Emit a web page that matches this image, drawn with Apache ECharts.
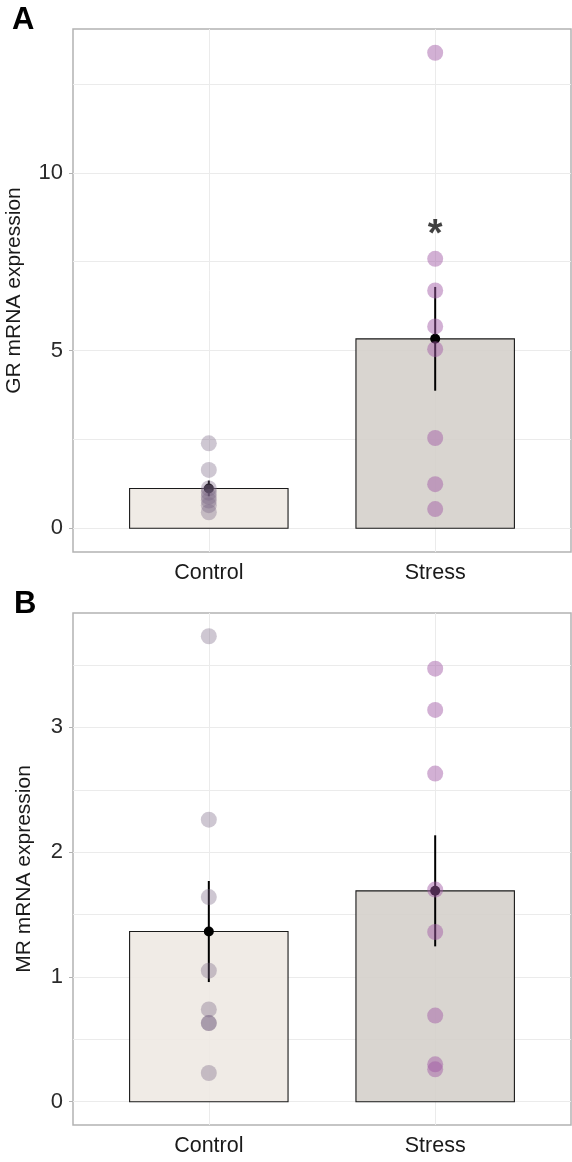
<!DOCTYPE html>
<html><head><meta charset="utf-8">
<script src="https://cdn.jsdelivr.net/npm/echarts@6/dist/echarts.min.js"></script>
<style>html,body{margin:0;padding:0;background:#fff}#c{width:572px;height:1162px}</style>
</head><body><div id="c"></div>
<script>
// ---- data ----
const categories = ['Control', 'Stress'];
const grPointsControl = [2.39, 1.64, 1.12, 1.00, 0.88, 0.78, 0.65, 0.45];
const grPointsStress = [13.38, 7.58, 6.69, 5.68, 5.04, 2.54, 1.24, 0.54];
const grMean = [1.12, 5.33];
const grSem = [0.22, 1.46];
const mrPointsControl = [3.73, 2.26, 1.64, 1.05, 0.74, 0.63, 0.63, 0.23];
const mrPointsStress = [3.47, 3.14, 2.63, 1.70, 1.36, 0.69, 0.30, 0.26];
const mrMean = [1.364, 1.69];
const mrSem = [0.405, 0.445];
const grTicks = [0, 5, 10];
const grGridLines = [0, 2.5, 5, 7.5, 10, 12.5];
const mrTicks = [0, 1, 2, 3];
const mrGridLines = [0, 0.5, 1, 1.5, 2, 2.5, 3, 3.5];
const grSignif = [[2, 8.25, '*']];
const panelLetters = ['A', 'B'];
const yTitles = ['GR mRNA expression', 'MR mRNA expression'];

// ---- styling ----
const FONT = "'Liberation Sans', Arial, sans-serif";
const barColors = ['rgba(238,232,226,0.88)', 'rgba(212,207,202,0.88)'];
const pointColors = ['rgba(120,100,130,0.36)', 'rgba(160,90,165,0.48)'];
const borderGrey = '#b3b3b3';
const gridGrey = '#ebebeb';

const chart = echarts.init(document.getElementById('c'), null, {renderer: 'canvas'});

function expandRange(vals) {
  const mx = Math.max(...vals), mn = Math.min(0, ...vals);
  const e = (mx - mn) * 0.05;
  return [mn - e, mx + e];
}
const grRange = expandRange(grPointsControl.concat(grPointsStress));
const mrRange = expandRange(mrPointsControl.concat(mrPointsStress));

function barRender(params, api) {
  const x = api.value(0), y = api.value(1);
  const p0 = api.coord([x - 0.35, 0]);
  const p1 = api.coord([x + 0.35, y]);
  return {
    type: 'rect',
    shape: {x: p0[0], y: p1[1], width: p1[0] - p0[0], height: p0[1] - p1[1]},
    style: {fill: barColors[x - 1], stroke: '#1a1a1a', lineWidth: 1.1}
  };
}
function errRender(params, api) {
  const x = api.value(0), m = api.value(1), s = api.value(2);
  const a = api.coord([x, m - s]);
  const b = api.coord([x, m + s]);
  return {
    type: 'line',
    shape: {x1: a[0], y1: a[1], x2: b[0], y2: b[1]},
    style: {stroke: '#000', lineWidth: 2}
  };
}

const grids = [
  {left: 73, right: 1, top: 29, height: 523},
  {left: 73, right: 1, top: 613, height: 512}
];

function xAxisFor(i) {
  return {
    type: 'value', gridIndex: i, min: 0.4, max: 2.6,
    axisLine: {show: false},
    splitLine: {show: false},
    axisTick: {show: true, customValues: [1, 2], length: 4, lineStyle: {color: borderGrey, width: 1}},
    axisLabel: {customValues: [1, 2], formatter: v => categories[Math.round(v) - 1], color: '#1a1a1a',
      fontFamily: FONT, fontSize: 21.5, margin: 10}
  };
}
function yAxisFor(i, range, ticks, gap) {
  return {
    type: 'value', gridIndex: i, min: range[0], max: range[1],
    name: yTitles[i], nameLocation: 'middle', nameGap: gap,
    nameTextStyle: {fontFamily: FONT, fontSize: 21, color: '#1a1a1a'},
    axisLine: {show: false},
    splitLine: {show: false},
    axisTick: {show: true, customValues: ticks, length: 4, lineStyle: {color: borderGrey, width: 1}},
    axisLabel: {customValues: ticks, color: '#2a2a2a', fontFamily: FONT, fontSize: 22, margin: 10}
  };
}

function panelSeries(i, ptsC, ptsS, mean, sem, gridVals) {
  const s = [];
  s.push({
    type: 'scatter', xAxisIndex: i, yAxisIndex: i, data: [[1, 0]], symbolSize: 0, silent: true, z: 1,
    markLine: {
      silent: true, symbol: 'none', z: 1, animation: false,
      label: {show: false},
      lineStyle: {color: gridGrey, width: 1, type: 'solid'},
      data: gridVals.map(v => ({yAxis: v})).concat([{xAxis: 1}, {xAxis: 2}])
    }
  });
  s.push({
    type: 'custom', xAxisIndex: i, yAxisIndex: i, z: 2, renderItem: barRender,
    data: categories.map((c, k) => [k + 1, mean[k]])
  });
  s.push({
    type: 'custom', xAxisIndex: i, yAxisIndex: i, z: 3, renderItem: errRender,
    data: categories.map((c, k) => [k + 1, mean[k], sem[k]])
  });
  s.push({
    type: 'scatter', xAxisIndex: i, yAxisIndex: i, z: 4, symbolSize: 10,
    itemStyle: {color: '#000', opacity: 1},
    data: categories.map((c, k) => [k + 1, mean[k]])
  });
  s.push({
    type: 'scatter', xAxisIndex: i, yAxisIndex: i, z: 5, symbolSize: 16,
    itemStyle: {color: pointColors[0], opacity: 1},
    data: ptsC.map(v => [1, v])
  });
  s.push({
    type: 'scatter', xAxisIndex: i, yAxisIndex: i, z: 5, symbolSize: 16,
    itemStyle: {color: pointColors[1], opacity: 1},
    data: ptsS.map(v => [2, v])
  });
  return s;
}

const series = [].concat(
  panelSeries(0, grPointsControl, grPointsStress, grMean, grSem, grGridLines),
  panelSeries(1, mrPointsControl, mrPointsStress, mrMean, mrSem, mrGridLines)
);
series.push({
  type: 'scatter', xAxisIndex: 0, yAxisIndex: 0, z: 6, symbolSize: 1,
  itemStyle: {color: 'rgba(0,0,0,0)'},
  label: {show: true, position: 'inside', formatter: p => p.data[2], color: '#111',
    fontFamily: FONT, fontWeight: 'bold', fontSize: 38},
  data: grSignif
});

chart.setOption({
  animation: false,
  backgroundColor: '#fff',
  grid: grids.map(g => Object.assign({show: true, containLabel: false, outerBoundsMode: 'none',
    borderColor: borderGrey, borderWidth: 1.5, backgroundColor: 'transparent'}, g)),
  xAxis: [xAxisFor(0), xAxisFor(1)],
  yAxis: [yAxisFor(0, grRange, grTicks, 48), yAxisFor(1, mrRange, mrTicks, 38)],
  series: series,
  graphic: [
    {type: 'text', left: 12, top: 5, style: {text: panelLetters[0], font: "bold 31px 'Liberation Sans', Arial", fill: '#000'}},
    {type: 'text', left: 14, top: 589, style: {text: panelLetters[1], font: "bold 31px 'Liberation Sans', Arial", fill: '#000'}}
  ]
});
</script>
</body></html>
